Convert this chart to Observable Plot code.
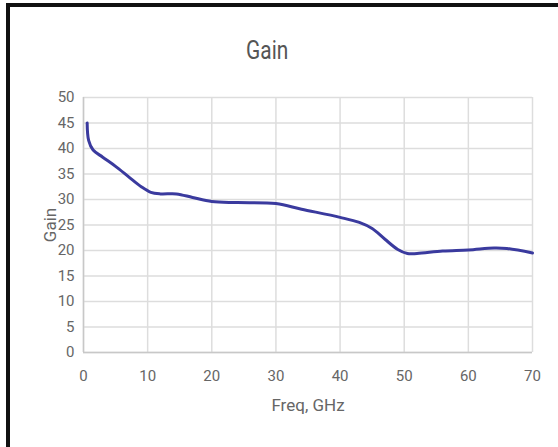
<!DOCTYPE html>
<html>
<head>
<meta charset="utf-8">
<script src="https://cdn.jsdelivr.net/npm/d3@7"></script>
<script src="https://cdn.jsdelivr.net/npm/@observablehq/plot@0.6"></script>
<style>
  body { margin: 0; background: #fff; width: 558px; height: 447px; overflow: hidden; position: relative; font-family: Roboto, "Liberation Sans", sans-serif; }
  #frame { position: absolute; left: 6px; top: 3px; width: 600px; height: 500px; border-top: 4px solid #111; border-left: 4px solid #111; box-sizing: border-box; }
  #title { position: absolute; left: 0; top: 0; width: 534px; height: 80px; line-height: 26px; padding-top: 38px; box-sizing: border-box; text-align: center; font-size: 22px; color: #555; }
  #title span { display: inline-block; transform: scale(0.95, 1.2); }
  #chart { position: absolute; left: 0; top: 80px; }
</style>
</head>
<body>
<div id="frame"></div>
<div id="title"><span>Gain</span></div>
<div id="chart"></div>
<script>
const freq = [0.57, 0.8, 1.5, 3, 5, 7, 9, 10.5, 12, 14.5, 17, 20, 24, 30, 34, 40, 43, 45, 47, 49, 50.5, 52, 56, 60, 64, 66, 70];
const gain = [45, 41.6, 39.7, 38.3, 36.5, 34.5, 32.5, 31.4, 31.1, 31.1, 30.4, 29.6, 29.4, 29.2, 28.1, 26.5, 25.5, 24.3, 22.2, 20.2, 19.4, 19.4, 19.9, 20.1, 20.5, 20.4, 19.5];
const xTicks = [0, 10, 20, 30, 40, 50, 60, 70];
const yTicks = [0, 5, 10, 15, 20, 25, 30, 35, 40, 45, 50];

const data = freq.map((f, i) => ({f, g: gain[i]}));

const chart = Plot.plot({
  width: 558,
  height: 367,
  marginLeft: 83,
  marginRight: 26,
  marginTop: 17,
  marginBottom: 95,
  style: {fontFamily: "Roboto, 'Liberation Sans', sans-serif", fontSize: "15px", color: "#666", background: "transparent"},
  x: {domain: [0, 70], ticks: xTicks, label: null},
  y: {domain: [0, 50], ticks: yTicks, label: null},
  marks: [
    Plot.gridX(xTicks, {stroke: "#ddd", strokeOpacity: 1, strokeWidth: 1.5}),
    Plot.gridY(yTicks, {stroke: "#ddd", strokeOpacity: 1, strokeWidth: 1.5}),
    Plot.ruleX([0], {stroke: "#c8c8c8", strokeWidth: 1.5}),
    Plot.ruleY([0], {stroke: "#c8c8c8", strokeWidth: 1.5}),
    Plot.axisX({ticks: xTicks, tickSize: 0, tickPadding: 18, label: "Freq, GHz", labelAnchor: "center", labelArrow: "none", labelOffset: 58, fontSize: 15}),
    Plot.axisY({ticks: yTicks, tickSize: 0, tickPadding: 9, label: "Gain", labelAnchor: "center", labelArrow: "none", labelOffset: 40, fontSize: 15}),
    Plot.line(data, {x: "f", y: "g", stroke: "#3a3a9e", strokeWidth: 3, curve: "catmull-rom"})
  ]
});
chart.querySelectorAll("g[aria-label$='axis label'] text").forEach(t => { t.style.fontSize = "17px"; });
document.getElementById("chart").appendChild(chart);
</script>
</body>
</html>
